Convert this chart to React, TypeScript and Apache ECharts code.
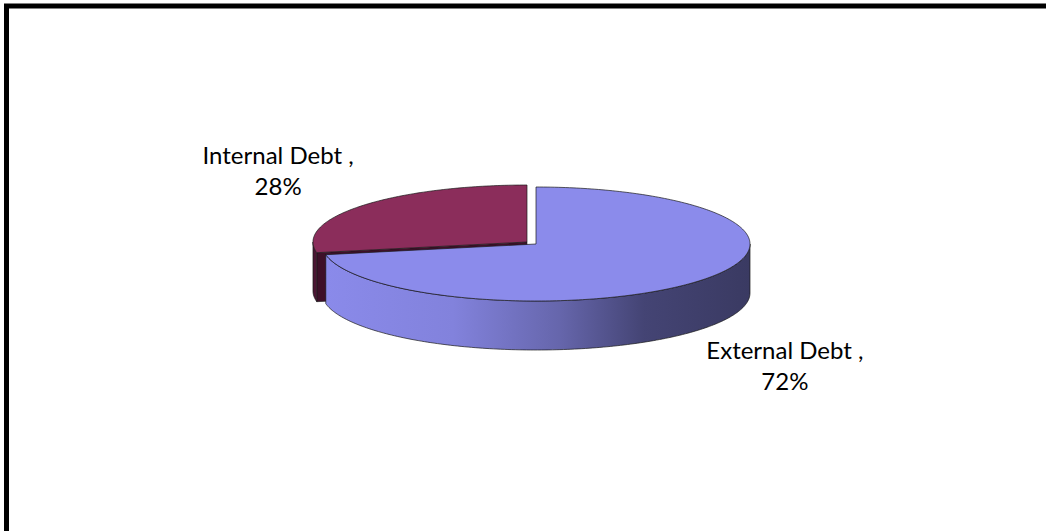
import React, { useEffect, useRef } from 'react';
import * as echarts from 'echarts';

const categories = ['External Debt', 'Internal Debt'];
const shares = [72, 28];

export default function App() {
  const ref = useRef<HTMLDivElement>(null);
  useEffect(() => {
    const chart = echarts.init(ref.current!, null, { renderer: 'svg' });
    const total = shares.reduce((a, b) => a + b, 0);
    const CX = 536, CY = 244, RX = 214, RY = 57, H = 49;
    const LRX = 323, LRY = 113;
    const topColors = ['#8B8BEB', '#8B2D5B'];
    const sideColors: any[] = [
      {
        type: 'linear', x: 0, y: 0, x2: 1, y2: 0,
        colorStops: [
          { offset: 0, color: '#8A8AEA' },
          { offset: 0.3, color: '#8282DC' },
          { offset: 0.55, color: '#6666AC' },
          { offset: 0.75, color: '#444474' },
          { offset: 1, color: '#3A3A62' },
        ],
      },
      '#4B1633',
    ];
    const faceColors = ['#3A3A62', '#3E1029'];

    chart.setOption({
      animation: false,
      graphic: [
        {
          type: 'rect',
          silent: true,
          shape: { x: 6.5, y: 6, width: 1200, height: 700 },
          style: { fill: 'none', stroke: '#000', lineWidth: 5 },
        },
      ],
      series: [
        {
          type: 'custom',
          coordinateSystem: 'none',
          data: categories.map((c, i) => ({ name: c, value: shares[i] })),
          renderItem: (params: any, api: any) => {
            const i = params.dataIndex;
            const v = api.value(0);
            let start = 0;
            for (let j = 0; j < i; j++) start += shares[j];
            const a0 = (start / total) * Math.PI * 2;
            const a1 = ((start + v) / total) * Math.PI * 2;
            const mid = (a0 + a1) / 2;
            const ex = i === 1 ? 11.7 : 0;
            const cx = CX + ex * Math.sin(mid);
            const cy = CY - ex * Math.cos(mid) * (RY / RX);
            const pt = (t: number, dy = 0) => [cx + RX * Math.sin(t), cy - RY * Math.cos(t) + dy];
            const sample = (s: number, e: number, dy = 0) => {
              const n = Math.max(2, Math.ceil((e - s) / (Math.PI / 180)));
              const out: number[][] = [];
              for (let k = 0; k <= n; k++) out.push(pt(s + ((e - s) * k) / n, dy));
              return out;
            };
            const base = i === 0 ? 10 : 0;
            const children: any[] = [];
            const faceVis = (ang: number) => Math.cos(ang) < -1e-6;
            const addFace = (ang: number) => {
              const p = pt(ang);
              children.push({
                type: 'polygon',
                z2: base + 1,
                shape: { points: [[cx, cy], p, [p[0], p[1] + H], [cx, cy + H]] },
                style: { fill: faceColors[i], stroke: '#1a1a1a', lineWidth: 0.6 },
              });
            };
            if (faceVis(a0 - Math.PI / 2)) addFace(a0);
            if (faceVis(a1 + Math.PI / 2)) addFace(a1);
            const s = Math.max(a0, Math.PI / 2);
            const e = Math.min(a1, (Math.PI * 3) / 2);
            if (s < e) {
              const topArc = sample(s, e);
              const botArc = sample(s, e, H).reverse();
              children.push({
                type: 'polygon',
                z2: base + 2,
                shape: { points: topArc.concat(botArc) },
                style: { fill: sideColors[i], stroke: '#1a1a1a', lineWidth: 0.7 },
              });
            }
            children.push({
              type: 'polygon',
              z2: base + 3,
              shape: { points: [[cx, cy]].concat(sample(a0, a1)) },
              style: { fill: topColors[i], stroke: '#1a1a1a', lineWidth: 0.7 },
            });
            const front = Math.cos(mid) < 0 ? H : 0;
            const lx = cx + LRX * Math.sin(mid);
            const ly = cy - LRY * Math.cos(mid) + front;
            const pct = Math.round((v / total) * 100);
            children.push({
              type: 'text',
              z2: base + 4,
              x: lx,
              y: ly,
              style: {
                text: `${categories[i]} ,\n${pct}%`,
                align: 'center',
                verticalAlign: 'middle',
                font: '24px Lato',
                lineHeight: 31,
                fill: '#000',
              },
            });
            return { type: 'group', children };
          },
        },
      ],
    });
    return () => chart.dispose();
  }, []);
  return (
    <div
      ref={ref}
      style={{ position: 'fixed', left: 0, top: 0, width: 1046, height: 531, background: '#fff' }}
    />
  );
}
